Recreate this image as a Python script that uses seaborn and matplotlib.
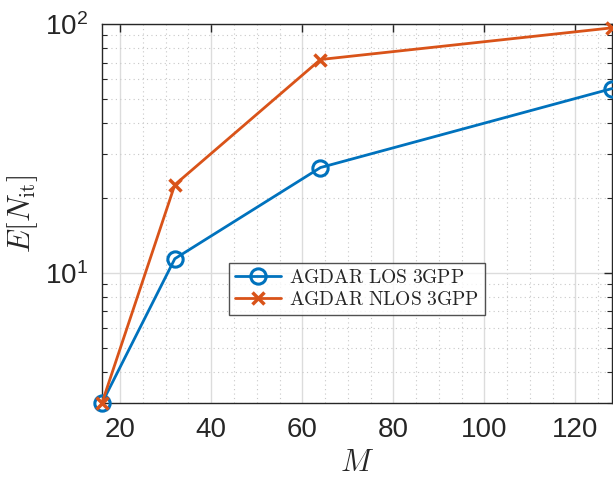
import matplotlib
matplotlib.use("Agg")
import matplotlib.pyplot as plt
import seaborn as sns
import pandas as pd
from matplotlib.ticker import MultipleLocator, LogLocator, NullFormatter

M_vals = [16, 32, 64, 128]
los_vals = [3.0, 11.4, 26.5, 55.0]
nlos_vals = [3.0, 22.6, 72.0, 96.5]
series_names = [r"$\mathrm{AGDAR\ LOS\ 3GPP}$", r"$\mathrm{AGDAR\ NLOS\ 3GPP}$"]

df = pd.DataFrame({
    "M": M_vals * 2,
    "E": los_vals + nlos_vals,
    "series": [series_names[0]] * 4 + [series_names[1]] * 4,
})

sns.set_theme(style="white")
plt.rcParams["font.family"] = ["Liberation Sans", "DejaVu Sans"]
plt.rcParams["mathtext.fontset"] = "cm"

fig = plt.figure(figsize=(6.13, 4.83), dpi=100)
ax = fig.add_axes([0.1664, 0.1656, 0.8316, 0.7847])

palette = {series_names[0]: "#0072BD", series_names[1]: "#D95319"}
sns.lineplot(data=df, x="M", y="E", hue="series", style="series",
             markers={series_names[0]: "o", series_names[1]: "X"},
             dashes=False, palette=palette, ax=ax, linewidth=2.0,
             markersize=11, markeredgewidth=2.2, legend=True)

for line in ax.lines:
    c = line.get_color()
    line.set_clip_on(False)
    line.set_zorder(3)
    if line.get_marker() == "o":
        line.set_markerfacecolor("none")
        line.set_markeredgecolor(c)
    else:
        line.set_marker("x")
        line.set_markersize(8)
        line.set_markeredgewidth(2.5)
        line.set_markeredgecolor(c)

ax.set_yscale("log")
ax.set_xlim(16, 128)
ax.set_ylim(3, 100)
ax.xaxis.set_major_locator(MultipleLocator(20))
ax.xaxis.set_minor_locator(MultipleLocator(5))
ax.yaxis.set_major_locator(LogLocator(base=10, numticks=10))
ax.yaxis.set_minor_locator(LogLocator(base=10, subs=range(2, 10), numticks=20))
ax.yaxis.set_minor_formatter(NullFormatter())

ax.grid(True, which="major", color="#dcdcdc", linewidth=1.0, linestyle="-")
ax.grid(True, which="minor", color="#c8c8c8", linewidth=0.8, linestyle=(0, (1, 3)))
ax.set_axisbelow(True)

ax.tick_params(axis="both", which="major", direction="in", length=6, width=1.0,
               top=True, right=True, labelsize=20, colors="#262626", pad=10)
ax.tick_params(axis="y", which="minor", direction="in", length=3.5, width=0.8,
               left=True, right=True)
ax.tick_params(axis="x", which="minor", length=0)
for s in ax.spines.values():
    s.set_color("#262626")
    s.set_linewidth(1.0)

ax.set_xlabel(r"$M$", fontsize=22, color="#262626", labelpad=4)
ax.set_ylabel(r"$E[N_{\mathrm{it}}]$", fontsize=22, color="#262626", labelpad=4)

handles, labels = ax.get_legend_handles_labels()
leg = ax.legend(handles, labels, loc="upper left", bbox_to_anchor=(0.249, 0.369),
                fontsize=14, frameon=True, fancybox=False, edgecolor="#262626",
                handlelength=2.4, borderpad=0.3, labelspacing=0.2, handletextpad=0.4,
                borderaxespad=0)
leg.get_frame().set_linewidth(1.0)
leg.set_zorder(5)

fig.savefig("out.png", dpi=100)
